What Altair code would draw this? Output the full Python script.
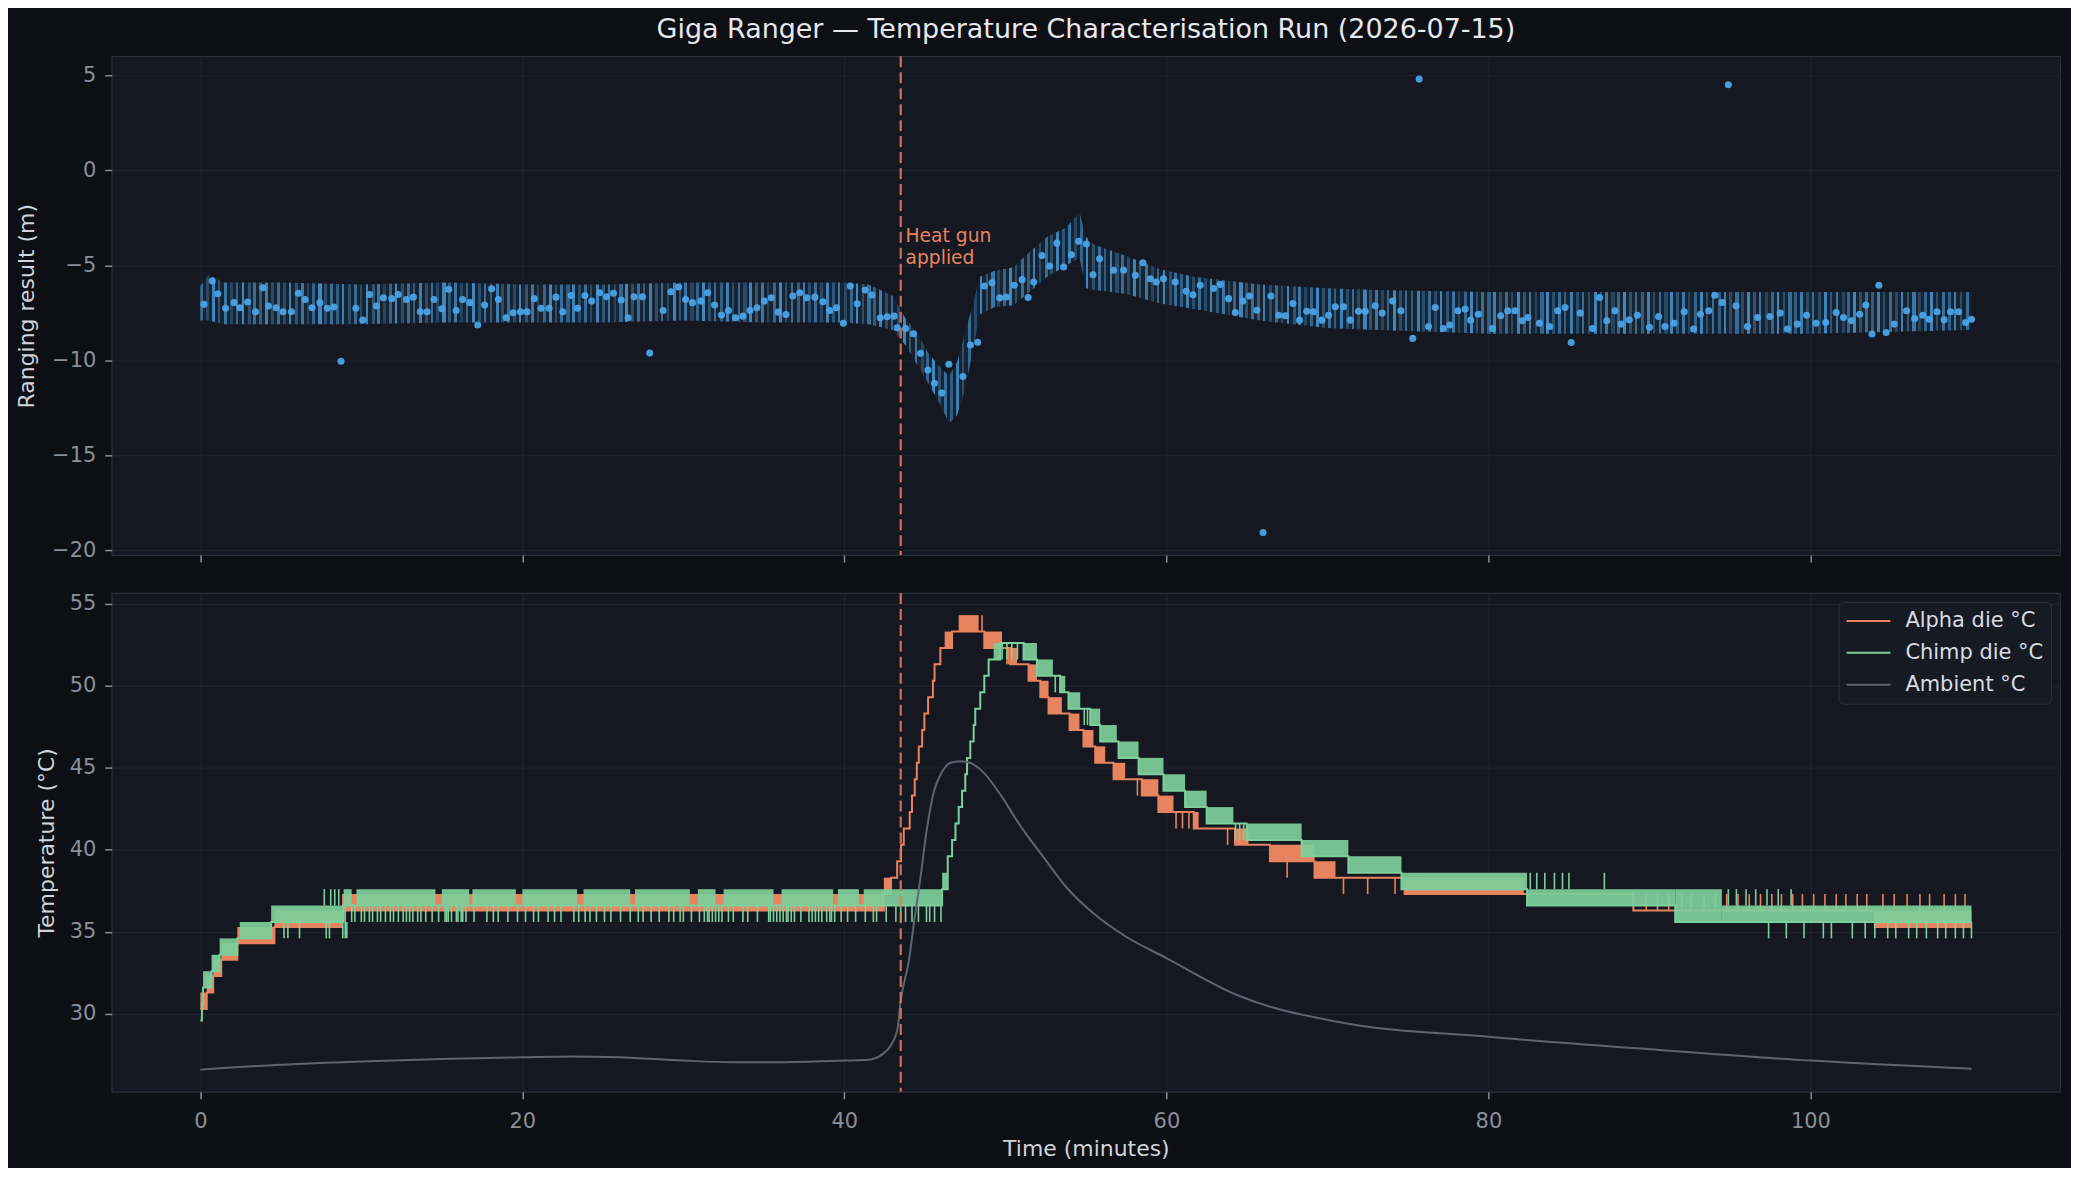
import altair as alt
import pandas as pd

# ---------------- data ----------------
x_ticks = [0, 20, 40, 60, 80, 100]
top_ticks = [-20, -15, -10, -5, 0, 5]
bot_ticks = [30, 35, 40, 45, 50, 55]

heat_gun_t = [43.5]
ann_t = [43.8]
ann_v = [-3.0]
ann_text = ["Heat gun\napplied"]

# ranging result: larger markers
big_t = [0.23, 0.74, 1.09, 1.57, 2.09, 2.46, 2.94, 3.43, 3.89, 4.23, 4.71, 5.14, 5.66, 6.09, 6.51, 6.94,
         7.43, 7.89, 8.31, 8.74, 9.66, 10.09, 10.51, 10.94, 11.37, 11.89, 12.29, 12.80, 13.23, 13.66, 14.09,
         14.51, 15.00, 15.43, 15.89, 16.29, 16.74, 17.23, 17.66, 18.09, 18.51, 19.00, 19.43, 19.89, 20.29,
         20.74, 21.17, 21.66, 22.09, 22.51, 23.03, 23.43, 23.89, 24.31, 24.80, 25.23, 25.66, 26.14, 26.57,
         26.94, 27.46, 27.91, 28.74, 29.23, 29.71, 30.14, 30.57, 31.09, 31.51, 31.94, 32.37, 32.80, 33.23,
         33.71, 34.14, 34.57, 35.03, 35.46, 35.89, 36.37, 36.80, 37.23, 37.66, 38.17, 38.66, 39.09, 39.51,
         39.94, 40.37, 40.80, 41.29, 41.71, 42.23, 42.66, 43.09,
         43.28, 43.80, 44.28, 44.73, 45.19, 45.60, 46.05, 46.49, 47.36, 47.83, 48.28, 48.70, 49.17, 49.65,
         50.06, 50.56, 51.04, 51.41, 51.76, 52.27, 52.75, 53.20, 53.62, 54.10, 54.55, 55.03, 55.44, 55.85,
         56.72, 57.34, 58.07, 58.54, 59.00, 59.37, 59.82, 60.55, 61.23, 61.65, 62.10, 62.93, 63.35, 63.86,
         64.28, 64.75, 65.16, 65.62, 66.00, 66.49, 66.97, 67.38, 67.86, 68.27, 68.72, 69.14, 69.66, 70.07,
         70.49, 71.00, 71.42, 71.93, 72.35, 72.97,
         73.40, 74.05, 74.56, 75.30, 75.70, 76.28, 76.70, 77.20, 77.60, 78.10, 78.56, 78.90, 79.37, 80.25,
         80.76, 81.20, 81.65, 82.10, 82.45, 83.17, 83.80, 84.30, 84.76, 85.14, 85.70, 86.46, 86.90, 87.35,
         87.86, 88.24, 88.75, 89.25, 90.00, 90.57, 90.97, 91.53, 92.16, 92.74, 93.17, 93.68, 94.06, 94.52,
         94.90, 95.38, 96.09, 96.72, 97.48, 98.12, 98.57, 99.18, 99.76, 100.35, 100.95, 101.60, 102.05,
         102.55, 103.06, 103.44, 103.82, 104.25, 104.70, 105.20, 105.97, 106.47, 106.98, 107.36, 107.86,
         108.30, 108.70, 109.20, 109.64, 110.00]
big_v = [-7.05, -5.82, -6.49, -7.26, -6.96, -7.23, -6.93, -7.44, -6.18, -7.14, -7.23, -7.44, -7.44, -6.47,
         -6.79, -7.23, -6.96, -7.26, -7.19, -10.04, -7.26, -7.88, -6.53, -7.14, -6.70, -6.75, -6.53, -6.79,
         -6.67, -7.44, -7.44, -6.79, -7.28, -6.26, -7.37, -6.79, -6.96, -8.14, -7.09, -6.23, -6.79, -7.75,
         -7.49, -7.44, -7.44, -6.75, -7.26, -7.26, -6.67, -7.44, -6.58, -7.26, -6.58, -6.88, -6.44, -6.65,
         -6.47, -6.82, -7.75, -6.65, -6.65, -9.61, -7.37, -6.39, -6.14, -6.79, -6.96, -6.88, -6.44, -7.09,
         -7.61, -7.37, -7.75, -7.67, -7.37, -7.23, -6.88, -6.70, -7.46, -7.58, -6.61, -6.44, -6.70, -6.67,
         -6.91, -7.37, -7.23, -8.04, -6.09, -7.02, -6.30, -6.56, -7.75, -7.70, -7.67,
         -8.28, -8.32, -8.60, -9.62, -10.51, -11.20, -11.72, -10.20, -10.85, -9.19, -9.05, -6.08, -5.92,
         -6.71, -6.66, -6.05, -5.75, -6.69, -5.87, -4.48, -5.03, -3.83, -5.09, -4.44, -3.73, -3.87, -5.49,
         -4.65, -5.26, -5.26, -5.52, -4.86, -5.70, -5.87, -5.70, -5.87, -6.36, -6.54, -6.05, -6.22, -6.01,
         -6.75, -7.48, -6.88, -6.61, -7.36, -19.05, -6.61, -7.62, -7.65, -7.01, -7.88, -7.41, -7.44, -7.88,
         -7.62, -7.18, -7.18, -7.88, -7.41, -7.41, -7.13,
         -7.51, -6.87, -7.39, -8.84, 4.80, -8.21, -7.22, -8.32, -8.14, -7.39, -7.30, -7.88, -7.57, -8.32,
         -7.65, -7.39, -7.39, -7.91, -7.74, -8.04, -8.21, -7.39, -7.22, -9.06, -7.51, -8.32, -6.69, -7.91,
         -7.39, -8.09, -7.86, -7.62, -8.26, -7.69, -8.21, -8.04, -7.44, -8.35, -7.57, -7.39, -6.57, -6.95,
         4.50, -7.13, -8.21, -7.74, -7.69, -7.51, -8.35, -8.09, -7.62, -8.04, -8.00, -7.48, -7.74, -7.91,
         -7.57, -7.09, -8.61, -6.05, -8.53, -8.09, -7.39, -7.79, -7.62, -7.83, -7.44, -7.86, -7.44, -7.44,
         -8.00, -7.83]

# ranging result: envelope of the dense small-dot cloud
cloud_t = [0.0, 0.5, 1.5, 5.0, 10.0, 15.0, 20.0, 25.0, 30.0, 35.0, 40.0, 41.5, 43.0, 43.8, 44.5, 45.2,
           46.0, 46.5, 47.0, 47.5, 48.0, 48.4, 49.3, 50.5, 51.5, 52.6, 53.8, 54.6, 55.0, 55.5, 57.5, 59.6,
           61.7, 65.8, 70.0, 73.0, 80.0, 90.0, 100.0, 110.0]
cloud_lo = [-7.9, -7.9, -8.1, -8.1, -8.1, -8.0, -8.0, -8.0, -7.9, -8.0, -8.0, -8.1, -8.4, -9.2, -10.2,
            -11.2, -12.4, -13.3, -12.9, -11.5, -9.4, -7.6, -7.2, -7.1, -6.4, -5.6, -5.0, -4.6, -6.2, -6.3,
            -6.5, -7.0, -7.3, -7.9, -8.3, -8.4, -8.6, -8.6, -8.6, -8.4]
cloud_hi = [-6.1, -5.5, -5.9, -5.9, -6.0, -5.9, -6.0, -6.0, -5.9, -5.9, -5.9, -6.0, -6.6, -7.8, -8.5,
            -9.6, -10.4, -10.8, -10.1, -8.5, -7.0, -5.6, -5.3, -5.1, -4.3, -3.5, -3.0, -2.2, -3.5, -3.9,
            -4.5, -5.2, -5.6, -6.0, -6.2, -6.3, -6.4, -6.4, -6.4, -6.4]

# Alpha die: segment start time, low level, high level (signal toggling between the two)
alpha_t0 = [0.0, 0.4, 0.8, 1.3, 2.3, 4.6, 8.8, 42.45, 42.9, 43.28, 43.52, 43.69, 44.06, 44.2, 44.37,
            44.5, 44.62, 44.83, 44.97, 45.2, 45.5, 45.6, 45.96, 46.23, 46.69, 47.1, 48.34, 48.69, 49.79,
            50.3, 50.72, 51.44, 51.96, 52.17, 52.68, 53.51, 53.99, 54.6, 54.85, 55.47, 55.58, 56.2, 56.72,
            57.44, 58.47, 59.5, 60.44, 61.7, 62.0, 64.26, 65.1, 66.43, 69.2, 70.5, 74.8, 76.0, 82.2, 89.0,
            104.0]
alpha_lo = [30.3, 31.3, 32.3, 33.3, 34.3, 35.3, 36.3, 37.3, 38.3, 39.3, 40.3, 41.3, 42.3, 43.3, 44.3,
            45.3, 46.3, 47.3, 48.3, 49.3, 50.3, 51.3, 52.3, 52.3, 53.3, 53.3, 53.3, 52.3, 52.3, 51.3, 51.3,
            50.3, 50.3, 49.3, 48.3, 48.3, 47.3, 47.3, 46.3, 46.3, 45.3, 45.3, 44.3, 44.3, 43.3, 42.3, 42.3,
            41.3, 41.3, 40.3, 40.3, 39.3, 38.3, 38.3, 37.3, 37.3, 37.3, 36.3, 35.3]
alpha_hi = [31.3, 32.3, 33.3, 34.3, 35.3, 36.3, 37.3, 38.3, 38.3, 39.3, 40.3, 41.3, 42.3, 43.3, 44.3,
            45.3, 46.3, 47.3, 48.3, 49.3, 50.3, 51.3, 52.3, 53.3, 53.3, 54.3, 53.3, 53.3, 52.3, 52.3, 51.3,
            51.3, 50.3, 50.3, 49.3, 48.3, 48.3, 47.3, 47.3, 46.3, 46.3, 45.3, 45.3, 44.3, 44.3, 43.3, 42.3,
            42.3, 41.3, 41.3, 40.3, 40.3, 39.3, 38.3, 38.3, 38.3, 37.3, 36.3, 36.3]
alpha_spk_t = [48.55, 50.1, 50.2, 58.2, 60.6, 61.0, 61.4, 63.8, 67.5, 71.0, 72.5, 74.2,
               89.8, 90.5, 91.2, 92.0, 92.6, 93.4, 94.1, 94.8, 95.5, 96.2, 96.9, 97.6, 98.2, 98.9, 99.5,
               100.2, 100.9, 101.6, 102.2, 102.9, 103.5,
               104.5, 105.2, 106.0, 106.8, 107.4, 108.3, 109.0, 109.6]
alpha_spk_lo = [53.3, 51.3, 51.3, 43.3, 41.3, 41.3, 41.3, 40.3, 38.3, 37.3, 37.3, 37.3,
                36.3, 36.3, 36.3, 36.3, 36.3, 36.3, 36.3, 36.3, 36.3, 36.3, 36.3, 36.3, 36.3, 36.3, 36.3,
                36.3, 36.3, 36.3, 36.3, 36.3, 36.3,
                36.3, 36.3, 36.3, 36.3, 36.3, 36.3, 36.3, 36.3]
alpha_spk_hi = [54.3, 52.3, 52.3, 44.3, 42.3, 42.3, 42.3, 41.3, 39.3, 38.3, 38.3, 38.3,
                37.3, 37.3, 37.3, 37.3, 37.3, 37.3, 37.3, 37.3, 37.3, 37.3, 37.3, 37.3, 37.3, 37.3, 37.3,
                37.3, 37.3, 37.3, 37.3, 37.3, 37.3,
                37.3, 37.3, 37.3, 37.3, 37.3, 37.3, 37.3, 37.3]

# Chimp die
chimp_t0 = [0.0, 0.1, 0.17, 0.7, 1.2, 2.3, 2.45, 4.4, 8.9, 9.4, 9.7, 14.6, 15.0, 16.7, 16.9, 19.6, 20.0,
            23.4, 23.8, 26.7, 27.0, 30.4, 30.9, 32.0, 32.5, 35.6, 36.1, 39.3, 39.6, 40.9, 41.2, 46.07,
            46.42, 46.69, 46.9, 47.1, 47.31, 47.51, 47.62, 47.82, 48.03, 48.13, 48.44, 48.69, 48.96, 49.27,
            49.68, 51.13, 51.96, 52.95, 53.4, 53.72, 53.92, 54.65, 55.27, 55.89, 56.92, 57.03, 58.27, 59.82,
            61.16, 62.5, 64.16, 64.99, 68.4, 71.3, 74.6, 82.4, 91.6, 94.5]
chimp_lo = [29.6, 30.6, 31.6, 32.6, 33.6, 34.6, 34.6, 35.6, 36.6, 36.6, 36.6, 36.6, 36.6, 36.6, 36.6, 36.6,
            36.6, 36.6, 36.6, 36.6, 36.6, 36.6, 36.6, 36.6, 36.6, 36.6, 36.6, 36.6, 36.6, 36.6, 36.6, 37.6,
            39.6, 40.6, 41.6, 42.6, 43.6, 44.6, 45.6, 46.6, 47.6, 48.6, 49.6, 50.6, 51.6, 51.6, 52.6, 51.6,
            50.6, 50.6, 49.6, 49.6, 48.6, 48.6, 47.6, 46.6, 46.6, 45.6, 44.6, 43.6, 42.6, 41.6, 41.6, 40.6,
            39.6, 38.6, 37.6, 36.6, 35.6, 35.6]
chimp_hi = [29.6, 30.6, 32.6, 33.6, 34.6, 34.6, 35.6, 36.6, 37.6, 36.6, 37.6, 36.6, 37.6, 36.6, 37.6, 36.6,
            37.6, 36.6, 37.6, 36.6, 37.6, 36.6, 37.6, 36.6, 37.6, 36.6, 37.6, 36.6, 37.6, 36.6, 37.6, 38.6,
            39.6, 40.6, 41.6, 42.6, 43.6, 44.6, 45.6, 46.6, 47.6, 48.6, 49.6, 50.6, 51.6, 52.6, 52.6, 52.6,
            51.6, 50.6, 50.6, 49.6, 49.6, 48.6, 48.6, 47.6, 46.6, 46.6, 45.6, 44.6, 43.6, 42.6, 41.6, 41.6,
            40.6, 39.6, 38.6, 37.6, 37.6, 36.6]
# Chimp single-sample spikes, grouped by the pair of levels they toggle between
chimp_flat_dips = [9.0, 9.4, 9.6, 10.0, 10.2, 10.5, 10.7, 11.0, 11.2, 11.5, 11.8, 12.0, 12.3, 12.6, 12.8,
                   13.0, 13.2, 13.5, 13.7, 14.0, 14.4, 14.8, 15.2, 15.3, 15.4, 15.6, 15.9, 16.0, 16.2, 16.3,
                   16.5, 17.0, 17.8, 18.2, 18.5, 19.1, 19.7, 20.2, 20.7, 21.0, 21.6, 22.0, 22.4, 23.2, 23.5,
                   23.9, 24.2, 24.6, 25.1, 25.5, 26.1, 26.7, 27.2, 27.5, 28.0, 28.5, 29.1, 29.4, 29.8, 30.0,
                   30.5, 31.0, 31.3, 31.5, 31.6, 31.8, 32.0, 32.2, 32.4, 32.8, 33.1, 33.7, 34.0, 34.6, 35.3,
                   35.4, 35.6, 35.8, 36.0, 36.2, 36.4, 36.5, 36.7, 36.9, 37.3, 37.8, 38.0, 38.2, 38.4, 38.6,
                   38.9, 39.1, 39.2, 39.4, 39.8, 40.2, 40.7, 41.3, 41.8, 42.0, 42.6, 43.2, 43.5, 43.8, 44.2,
                   44.6, 45.1, 45.3, 45.6, 46.0]          # 35.6 <-> 36.6
chimp_early_dips = [5.2, 5.44, 6.16, 7.82, 8.02, 8.85, 9.0, 9.1]   # 34.6 <-> 35.6
chimp_early_ups = [7.7, 8.1, 8.35, 8.6]                            # 36.6 <-> 37.6
chimp_late_ups = [82.6, 83.0, 83.5, 84.1, 84.6, 85.0, 87.2]        # 37.6 <-> 38.6
chimp_mid_ups = [94.9, 95.4, 96.0, 96.6, 97.3, 98.0, 98.8]         # 36.6 <-> 37.6
chimp_tail_dips = [97.4, 98.5, 99.6, 100.8, 101.3, 102.6, 103.4, 104.0, 104.8, 105.3, 106.1, 106.6,
                   107.2, 107.9, 108.4, 109.0, 109.5, 110.0]       # 34.6 <-> 35.6
chimp_decl_spk_t = [49.8, 50.1, 50.4, 50.75, 53.1, 54.9, 55.1, 64.3, 64.55, 64.8]
chimp_decl_spk_lo = [51.6, 51.6, 51.6, 51.6, 49.6, 47.6, 47.6, 40.6, 40.6, 40.6]
chimp_decl_spk_hi = [52.6, 52.6, 52.6, 52.6, 50.6, 48.6, 48.6, 41.6, 41.6, 41.6]

# Ambient
amb_t = [0.0, 5.0, 10.0, 15.0, 20.0, 23.0, 26.0, 30.0, 33.0, 36.0, 40.0, 41.5, 42.3, 42.9, 43.3, 43.5,
         44.0, 44.4, 44.7, 45.1, 45.5, 46.1, 46.6, 47.2, 47.8, 48.65, 49.7, 50.9, 52.4, 53.8, 55.5, 57.5,
         60.0, 64.5, 70.7, 80.0, 89.2, 100.0, 110.0]
amb_v = [26.6, 26.9, 27.1, 27.25, 27.35, 27.4, 27.35, 27.15, 27.05, 27.05, 27.15, 27.2, 27.5, 28.1, 29.1,
         30.8, 33.2, 36.1, 38.1, 41.1, 43.3, 44.8, 45.3, 45.4, 45.3, 44.7, 43.35, 41.5, 39.5, 37.7, 36.1,
         34.7, 33.4, 31.1, 29.5, 28.6, 27.9, 27.15, 26.65]

T_END = 110.0
S_ALPHA, S_CHIMP, S_AMB = "Alpha die °C", "Chimp die °C", "Ambient °C"

# ---------------- styling ----------------
FONT = "DejaVu Sans"
BG = "#0d0f14"
PANEL = "#151821"
ORANGE = "#e8835f"
GREEN = "#7dcf9b"
AMBC = "#5f6471"
BLUE = "#4aa3e6"
GUN = "#e07b5f"

# vertical-streak texture for the dense small-dot cloud (pure styling: a striped gradient fill)
streak_alpha = [0.6, 0.36, 0.78, 0.45, 0.68, 0.32, 0.55, 0.8, 0.4, 0.62, 0.5, 0.74, 0.38]
N_COL = 300
col_stops = []
for i in range(N_COL):
    a = streak_alpha[i % len(streak_alpha)]
    on = "rgba(74,163,230,%.2f)" % a
    off = "rgba(74,163,230,0.07)"
    w = 0.4 + 0.14 * ((i * 7) % 3) / 2
    col_stops += [alt.GradientStop(offset=i / N_COL, color=on),
                  alt.GradientStop(offset=(i + w) / N_COL, color=on),
                  alt.GradientStop(offset=(i + w) / N_COL, color=off),
                  alt.GradientStop(offset=(i + 1) / N_COL, color=off)]
streak_fill = alt.LinearGradient(gradient="linear", stops=col_stops, x1=0, x2=1, y1=0, y2=0)

# ---------------- frames ----------------
def seg_frame(t0, lo, hi):
    t1 = t0[1:] + [T_END]
    df = pd.DataFrame({"t0": t0, "t1": t1, "lo": lo, "hi": hi})
    return df[df["hi"] > df["lo"]]

def line_frame(t0, lo, name):
    return pd.DataFrame({"t": t0 + [T_END], "v": lo + [lo[-1]], "series": name})

def spikes(times, lo, hi):
    return pd.DataFrame({"t": times, "lo": lo, "hi": hi})

alpha_seg = seg_frame(alpha_t0, alpha_lo, alpha_hi)
chimp_seg = seg_frame(chimp_t0, chimp_lo, chimp_hi)
alpha_line = line_frame(alpha_t0, alpha_lo, S_ALPHA)
chimp_line = line_frame(chimp_t0, chimp_lo, S_CHIMP)
alpha_spk = spikes(alpha_spk_t, alpha_spk_lo, alpha_spk_hi)
chimp_spk = pd.concat([
    spikes(chimp_flat_dips, 35.6, 36.6),
    spikes(chimp_early_dips, 34.6, 35.6),
    spikes(chimp_early_ups, 36.6, 37.6),
    spikes(chimp_late_ups, 37.6, 38.6),
    spikes(chimp_mid_ups, 36.6, 37.6),
    spikes(chimp_tail_dips, 34.6, 35.6),
    spikes(chimp_decl_spk_t, chimp_decl_spk_lo, chimp_decl_spk_hi),
], ignore_index=True)
amb = pd.DataFrame({"t": amb_t, "v": amb_v, "series": S_AMB})
big = pd.DataFrame({"t": big_t, "v": big_v})
cloud = pd.DataFrame({"t": cloud_t, "lo": cloud_lo, "hi": cloud_hi})
gun = pd.DataFrame({"t": heat_gun_t})
ann = pd.DataFrame({"t": ann_t, "v": ann_v, "label": ann_text})

W, H = 1953, 500
xs = alt.Scale(domain=[-5.5, 115.5], nice=False, zero=False)
ys_top = alt.Scale(domain=[-20.24, 6.0], nice=False, zero=False)
ys_bot = alt.Scale(domain=[25.25, 55.65], nice=False, zero=False)

x_axis_top = alt.Axis(values=x_ticks, labels=False, ticks=True, tickSize=7, grid=True, title=None)
x_axis_bot = alt.Axis(values=x_ticks, tickSize=7, grid=True, title="Time (minutes)", labelPadding=12,
                      titlePadding=7)
y_axis_top = alt.Axis(values=top_ticks, tickSize=7, grid=True, title="Ranging result (m)", labelPadding=9,
                      titleX=-85.5, titleY=250, titleAngle=270, titleAlign="center", titleBaseline="middle")
y_axis_bot = alt.Axis(values=bot_ticks, tickSize=7, grid=True, title="Temperature (°C)", labelPadding=9,
                      titleX=-65.6, titleY=250, titleAngle=270, titleAlign="center", titleBaseline="middle")

def X(f, axis):
    return alt.X(f, type="quantitative", scale=xs, axis=axis)

# ---------------- top panel ----------------
def yt(f):
    return alt.Y(f, type="quantitative", scale=ys_top, axis=y_axis_top)

cloud_l = alt.Chart(cloud).mark_area(fill=streak_fill).encode(
    x=X("t", x_axis_top), y=yt("lo"), y2="hi")
big_l = alt.Chart(big).mark_circle(color=BLUE, size=50, opacity=0.95).encode(
    x=X("t", x_axis_top), y=yt("v"))
gun_top = alt.Chart(gun).mark_rule(color=GUN, strokeDash=[11, 5], strokeWidth=2.2, opacity=0.9).encode(
    x=X("t", x_axis_top))
ann_l = alt.Chart(ann).mark_text(align="left", baseline="top", font=FONT, fontSize=18.75, color=ORANGE,
                                 lineBreak="\n", lineHeight=22).encode(
    x=X("t", x_axis_top), y=yt("v"), text="label:N")

top = alt.layer(cloud_l, big_l, gun_top, ann_l).properties(
    width=W, height=H,
    title=alt.TitleParams(text="Giga Ranger — Temperature Characterisation Run (2026-07-15)",
                          anchor="middle", font=FONT, fontSize=27, fontWeight="normal",
                          color="#e6e8ee", offset=-16, baseline="bottom"))

# ---------------- bottom panel ----------------
def yb(f):
    return alt.Y(f, type="quantitative", scale=ys_bot, axis=y_axis_bot)

dom = [S_ALPHA, S_CHIMP, S_AMB]
col_scale = alt.Scale(domain=dom, range=[ORANGE, GREEN, AMBC])
sw_scale = alt.Scale(domain=dom, range=[2.0, 2.0, 1.0])
leg = alt.Legend(orient="top-right", offset=9, title=None, symbolType="stroke", symbolSize=1936,
                 labelFont=FONT, labelFontSize=21, labelColor="#d9dce3", fillColor="#161a23",
                 strokeColor="#2c303b", cornerRadius=5, padding=7, rowPadding=8, labelOffset=14,
                 clipHeight=24)

def line_layer(df, interp):
    return alt.Chart(df).mark_line(interpolate=interp).encode(
        x=X("t", x_axis_bot), y=yb("v"),
        color=alt.Color("series:N", scale=col_scale, legend=leg),
        strokeWidth=alt.StrokeWidth("series:N", scale=sw_scale, legend=leg))

def rect_layer(df, color, op):
    return alt.Chart(df).mark_rect(color=color, opacity=op).encode(
        x=X("t0", x_axis_bot), x2="t1", y=yb("lo"), y2="hi")

def spike_layer(df, color):
    return alt.Chart(df).mark_rule(color=color, strokeWidth=1.6).encode(
        x=X("t", x_axis_bot), y=yb("lo"), y2="hi")

gun_bot = alt.Chart(gun).mark_rule(color=GUN, strokeDash=[11, 5], strokeWidth=2.2, opacity=0.9).encode(
    x=X("t", x_axis_bot))

bottom = alt.layer(
    rect_layer(alpha_seg, ORANGE, 1.0),
    spike_layer(alpha_spk, ORANGE),
    line_layer(alpha_line, "step-after"),
    rect_layer(chimp_seg, GREEN, 0.93),
    spike_layer(chimp_spk, GREEN),
    line_layer(chimp_line, "step-after"),
    line_layer(amb, "monotone"),
    gun_bot,
).properties(width=W, height=H)

chart = alt.vconcat(top, bottom, spacing=38, bounds="flush").resolve_scale(
    color="independent", strokeWidth="independent"
).resolve_legend(
    color="independent", strokeWidth="independent"
).properties(
    padding={"left": 6, "top": 6, "right": 10, "bottom": 6},
    background=BG,
).configure_view(
    fill=PANEL, stroke="#2b2f3a", strokeWidth=1.2
).configure_axis(
    domain=False, gridColor="#20242e", gridWidth=1, tickColor="#8a8f9b", tickWidth=1.5,
    labelColor="#8a8f9b", labelFont=FONT, labelFontSize=21, titleFont=FONT, titleFontSize=22,
    titleColor="#cfd3db", titleFontWeight="normal"
)

chart.save("out.html", embed_options={"renderer": "svg", "actions": False})
